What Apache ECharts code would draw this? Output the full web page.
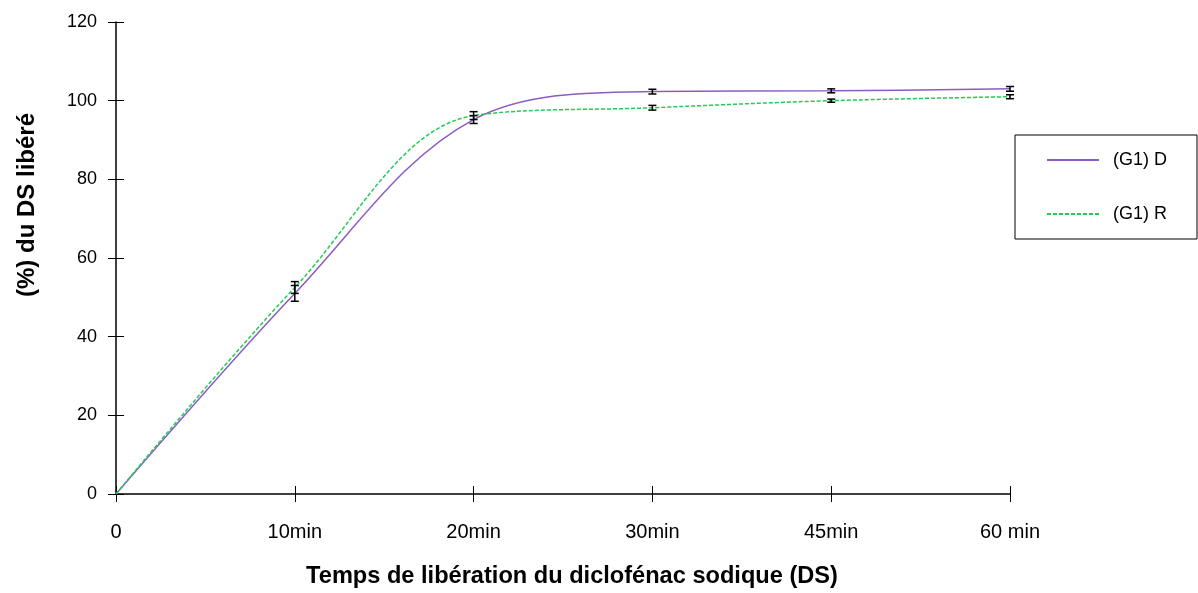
<!DOCTYPE html>
<html>
<head>
<meta charset="utf-8">
<script src="https://cdn.jsdelivr.net/npm/echarts@6/dist/echarts.min.js"></script>
<style>
  html, body { margin: 0; padding: 0; background: #fff; }
  #main { width: 1198px; height: 593px; }
</style>
</head>
<body>
<div id="main"></div>
<script>
var categories = ["0", "10min", "20min", "30min", "45min", "60 min"];
var seriesD = [0, 51, 95.2, 102.3, 102.5, 103];
var errD = [0, 2, 1, 0.6, 0.5, 0.6];
var seriesR = [0, 52.5, 96.2, 98.2, 100, 101];
var errR = [0, 1.5, 1, 0.6, 0.4, 0.5];
var yTitle = "(%) du DS libéré";
var xTitle = "Temps de libération du diclofénac sodique (DS)";

var chart = echarts.init(document.getElementById("main"));

function errorData(vals, errs) {
    var out = [];
    for (var i = 1; i < vals.length; i++) {
        out.push([i, vals[i] - errs[i], vals[i] + errs[i]]);
    }
    return out;
}

// petites barres d'erreur noires
function renderErr(params, api) {
    var lo = api.coord([api.value(0), api.value(1)]);
    var hi = api.coord([api.value(0), api.value(2)]);
    var w = 4;
    var st = { stroke: "#000", lineWidth: 1.5 };
    return {
        type: "group",
        children: [
            { type: "line", shape: { x1: lo[0], y1: lo[1], x2: hi[0], y2: hi[1] }, style: st },
            { type: "line", shape: { x1: lo[0] - w, y1: lo[1], x2: lo[0] + w, y2: lo[1] }, style: st },
            { type: "line", shape: { x1: hi[0] - w, y1: hi[1], x2: hi[0] + w, y2: hi[1] }, style: st }
        ]
    };
}

var option = {
    animation: false,
    textStyle: { fontFamily: "Liberation Sans, Arial, sans-serif" },
    grid: { left: 116, right: 188, top: 22, bottom: 98 },
    legend: {
        orient: "vertical",
        left: 1015, top: 135,
        padding: [16, 30, 16, 31],
        itemGap: 36,
        itemWidth: 52,
        itemHeight: 14,
        borderColor: "#000",
        borderWidth: 1,
        itemStyle: { opacity: 0 },
        textStyle: { fontSize: 18, color: "#000", padding: [0, 0, 0, 9] },
        data: ["(G1) D", "(G1) R"]
    },
    graphic: [{
        type: "text",
        x: 27, y: 205,
        rotation: Math.PI / 2,
        style: {
            text: yTitle,
            font: "bold 24px Liberation Sans, Arial, sans-serif",
            fill: "#000", align: "center", verticalAlign: "middle"
        }
    }],
    xAxis: [{
        type: "category",
        data: categories,
        boundaryGap: false,
        name: xTitle,
        nameLocation: "middle",
        nameGap: 70,
        nameTextStyle: { fontSize: 23.6, fontWeight: "bold", color: "#000", padding: [0, 0, 0, 18] },
        axisLine: { lineStyle: { color: "#000", width: 1.5 } },
        axisTick: { length: 8, lineStyle: { color: "#000" } },
        axisLabel: { fontSize: 20, color: "#000", margin: 28 },
        splitLine: { show: false }
    }, {
        // graduations vers l'intérieur (croisées)
        type: "category",
        data: categories,
        boundaryGap: false,
        position: "bottom",
        axisLine: { show: false },
        axisTick: { inside: true, length: 8, lineStyle: { color: "#000" } },
        axisLabel: { show: false },
        splitLine: { show: false }
    }],
    yAxis: [{
        type: "value",
        min: 0, max: 120, interval: 20,
        axisLine: { show: true, lineStyle: { color: "#000", width: 1.5 } },
        axisTick: { show: true, length: 8, lineStyle: { color: "#000" } },
        axisLabel: { fontSize: 18, color: "#000", margin: 19 },
        splitLine: { show: false }
    }, {
        type: "value",
        min: 0, max: 120, interval: 20,
        position: "left",
        axisLine: { show: false },
        axisTick: { show: true, inside: true, length: 8, lineStyle: { color: "#000" } },
        axisLabel: { show: false },
        splitLine: { show: false }
    }],
    series: [
        {
            name: "(G1) D", type: "line", data: seriesD, smooth: 0.35,
            symbol: "none", color: "#8a5cc4",
            lineStyle: { color: "#8a5cc4", width: 1.5 }
        },
        {
            name: "(G1) R", type: "line", data: seriesR, smooth: 0.35,
            symbol: "none", color: "#22cc55",
            lineStyle: { color: "#22cc55", width: 1.5, type: [4, 2] }
        },
        { type: "custom", data: errorData(seriesD, errD), renderItem: renderErr, z: 5 },
        { type: "custom", data: errorData(seriesR, errR), renderItem: renderErr, z: 5 }
    ]
};

chart.setOption(option);
</script>
</body>
</html>
